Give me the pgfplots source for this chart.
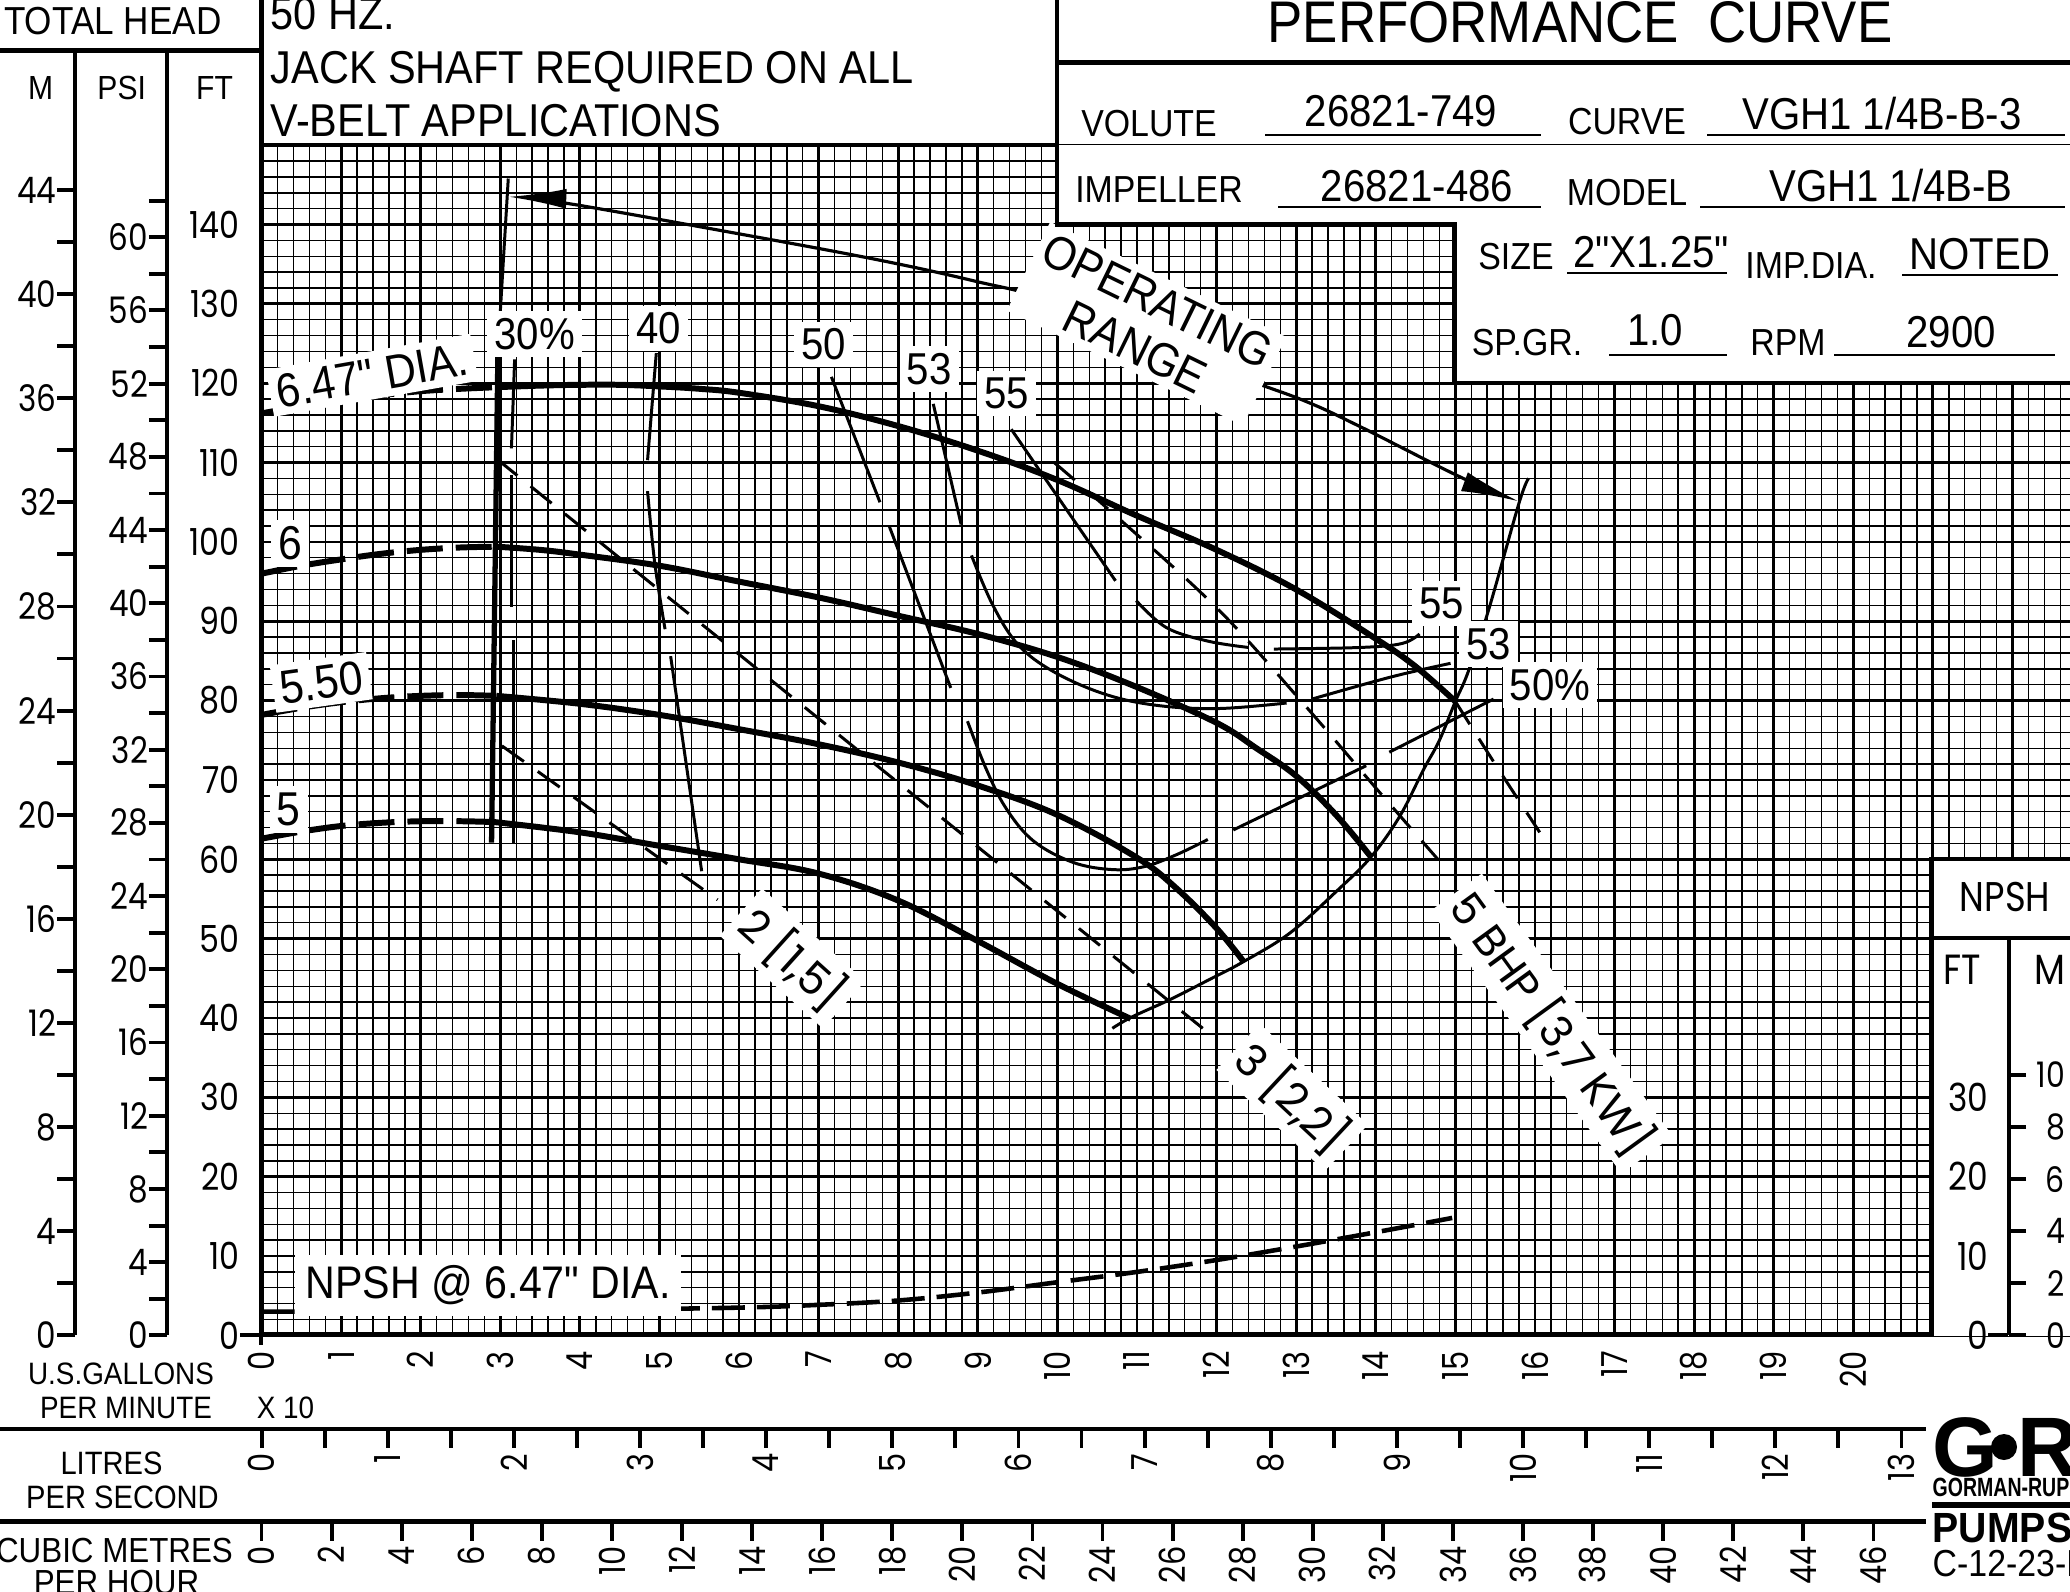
\documentclass[border=0pt]{standalone}
\usepackage{fontspec}
\usepackage{graphicx}
\usepackage{pgfplots}
\pgfplotsset{compat=1.18}
\usetikzlibrary{arrows.meta}
\newfontfamily\cad[FakeStretch=0.9]{Liberation Sans}
\newfontfamily\geo[FakeStretch=0.85]{Poppins}
\newfontfamily\geow{Poppins}
\newfontfamily\lgo{Liberation Sans}
\newcommand\fs[1]{\fontsize{#1}{#1}\selectfont}
\tikzset{
  t/.style={inner sep=0pt},
  lbl/.style={fill=white, inner sep=2pt, font=\cad\fs{12.7pt}},
  bhp/.style={fill=white, inner sep=2pt, font=\geow\fs{12.5pt}},
}
\pgfplotsset{
  every axis/.append style={/pgf/number format/assume math mode=true},
  hq/.style={black, line width=1.7pt, smooth, tension=0.6},
  hqd/.style={hq, dash pattern=on 0.36cm off 0.13cm},
  eff/.style={black, line width=0.85pt, smooth, tension=0.6},
  bhpl/.style={black, line width=0.85pt, smooth, tension=0.6, dash pattern=on 0.27cm off 0.17cm},
}
\begin{document}
\begin{tikzpicture}[x=0.01cm,y=-0.01cm]
\path[use as bounding box] (0,0) rectangle (2070,1591);
\clip (0,0) rectangle (2070,1591);

% ---------------- main chart ----------------
\begin{axis}[
  at={(2.614cm,-13.346cm)}, anchor=south west,
  x=0.7954cm, y=0.0793cm,
  xmin=0, xmax=23, ymin=0, ymax=150,
  axis line style={draw=none},
  xtick={0,1,...,23}, ytick={0,10,...,150},
  minor x tick num=4, minor y tick num=4,
  major tick length=0pt, minor tick length=0pt,
  grid=both,
  major grid style={line width=0.8pt, black},
  minor grid style={line width=0.4pt, black},
  xticklabel={\ifnum\ticknum<21 \pgfmathprintnumber[assume math mode=true]{\tick}\fi},
  yticklabel={\ifnum\ticknum<15 \pgfmathprintnumber[assume math mode=true]{\tick}\fi},
  xticklabel style={yshift=-0.15cm, rotate=90, anchor=east, inner sep=0pt, font=\geo\fs{10.2pt}},
  yticklabel style={xshift=-0.214cm, anchor=east, inner sep=0pt, font=\geo\fs{10.6pt}},
]
% white title-block / NPSH panel areas
\fill[white] (axis cs:21,-5) rectangle (axis cs:24,60);
\fill[white] (axis cs:10,140) rectangle (axis cs:24,160);
\fill[white] (axis cs:15,120) rectangle (axis cs:24,160);

% head-capacity curves
\addplot[hqd] coordinates {(0,116.2)(0.5,117.1)(1,117.9)(1.5,118.5)(2,119.0)(2.5,119.3)(2.95,119.5)};
\addplot[hq] coordinates {(2.95,119.5)(3.5,119.7)(4,119.8)(4.5,119.8)(5,119.6)(5.5,119.3)(6,118.8)(7,117.1)(8,114.6)(9,111.5)(10,107.8)(11,103.3)(12,99.0)(13,94.0)(14,87.8)(14.5,84.3)(15.0,79.9)};
\addplot[bhpl] coordinates {(15.0,79.9)(15.5,72.0)(16.06,63.4)};

\addplot[hqd] coordinates {(0,96.0)(0.5,97.0)(1,97.8)(1.5,98.5)(2,99.0)(2.5,99.3)(2.95,99.4)};
\addplot[hq] coordinates {(2.95,99.4)(3.5,99.0)(4,98.4)(5,97.0)(6,95.0)(7,93.0)(8,90.7)(9,88.4)(10,85.5)(11,81.7)(12,77.2)(12.5,74.0)(13,70.5)(13.5,65.6)(13.94,60.3)};

\addplot[hqd] coordinates {(0,78.2)(0.5,79.1)(1,79.8)(1.5,80.3)(2,80.6)(2.5,80.7)(2.95,80.6)};
\addplot[hq] coordinates {(2.95,80.6)(4,79.6)(5,78.2)(6,76.4)(7,74.5)(8,72.2)(9,69.3)(10,65.6)(11,60.2)(11.5,56.3)(12.0,51.3)(12.34,47.1)};

\addplot[hqd] coordinates {(0,62.6)(0.5,63.5)(1,64.2)(1.5,64.6)(2,64.8)(2.5,64.8)(2.92,64.7)};
\addplot[hq] coordinates {(2.92,64.7)(4,63.4)(5,61.7)(6,60.0)(7,58.2)(8,54.8)(9,49.7)(10,44.3)(10.92,39.9)};

% operating range boundaries
\addplot[black, line width=1.5pt] coordinates {(2.89,62.1)(2.97,124)};
\addplot[eff] coordinates {(2.97,124)(3.10,145.8)};
\addplot[eff] coordinates {(10.69,38.7)(10.93,40.1)(11.41,42.3)(11.9,44.8)(12.32,47.0)(12.92,50.7)(13.52,56.1)(13.94,60.3)(14.3,65.4)(14.6,71.3)(14.8,75.0)(15.0,79.9)(15.16,83.6)(15.42,91.5)(15.8,104.9)(15.92,108.0)};

% efficiency lines
\addplot[eff] coordinates {(3.18,123.0)(3.14,111.8)};
\addplot[eff] coordinates {(3.14,108.4)(3.14,91.8)};
\addplot[eff] coordinates {(3.16,87.6)(3.16,62.0)};
\addplot[eff] coordinates {(4.96,123.8)(4.85,110.3)};
\addplot[eff] coordinates {(4.85,106.4)(4.94,97.4)(5.07,89.0)};
\addplot[eff] coordinates {(5.14,85.6)(5.53,58.5)};
\addplot[eff] coordinates {(7.16,120.8)(7.77,105.0)};
\addplot[eff] coordinates {(7.89,101.9)(8.66,81.6)};
\addplot[eff] coordinates {(8.87,77.4)(9.1,71.5)(9.35,66.5)(9.7,62.3)(10.2,59.6)(10.7,58.7)(11.1,59.1)(11.5,60.6)(11.89,62.5)};
\addplot[eff] coordinates {(12.21,63.7)(13.88,71.8)};
\addplot[eff] coordinates {(14.17,73.5)(15.48,80.2)};
\addplot[eff] coordinates {(8.44,117.4)(8.79,102.2)};
\addplot[eff] coordinates {(8.92,98.3)(9.19,92.0)(9.51,87.0)(9.96,83.6)(10.6,80.8)(11.25,79.4)(12.02,79.0)(12.88,79.7)};
\addplot[eff] coordinates {(13.2,80.2)(14.2,83.0)(14.94,84.7)};
\addplot[eff] coordinates {(9.42,114.2)(10.73,95.1)};
\addplot[eff] coordinates {(10.99,92.6)(11.37,89.2)(11.89,87.5)(12.4,86.7)};
\addplot[eff] coordinates {(12.72,86.5)(13.81,86.7)(14.33,87.2)(14.55,88.4)};

% BHP lines
\addplot[bhpl] coordinates {(3.02,74.3)(5.73,54.9)};
\addplot[bhpl] coordinates {(2.95,110.5)(11.95,37.7)};
\addplot[bhpl] coordinates {(9.96,110.0)(10.8,102.7)(12.02,91.5)(13.04,80.2)(14.0,69.0)(14.78,60.0)};

% NPSH required
\addplot[black, line width=1.3pt, smooth, tension=0.6, dash pattern=on 0.33cm off 0.12cm] coordinates {(0,3.0)(2,3.05)(4,3.2)(6,3.5)(7,3.85)(8,4.4)(9,5.4)(10,6.7)(11,8.0)(12,9.5)(13,11.2)(14,13.0)(14.96,14.8)};

% operating range arrow
\addplot[black, line width=0.9pt, smooth, tension=0.6, {Latex[length=0.58cm,width=0.2cm]}-{Latex[length=0.58cm,width=0.2cm]}] coordinates {(3.10,143.5)(3.82,142.7)(5.74,139.3)(7.67,135.7)(8.95,132.9)(10.03,130.0)(12.08,121.6)(13.1,117.8)(13.81,114.5)(15.1,108.0)(15.8,105.1)};

% labels
\node[lbl, rotate=10, font=\cad\fs{13.5pt}] at (axis cs:1.39,121.0) {6.47" DIA.};
\node[lbl, font=\cad\fs{13.5pt}] at (axis cs:0.36,99.8) {6};
\node[lbl, rotate=8, font=\cad\fs{13.5pt}] at (axis cs:0.75,82.3) {5.50};
\node[lbl, font=\cad\fs{13.5pt}] at (axis cs:0.34,66.3) {5};
\node[lbl] at (axis cs:3.43,126.2) {30\%};
\node[lbl] at (axis cs:4.99,126.9) {40};
\node[lbl] at (axis cs:7.06,124.9) {50};
\node[lbl] at (axis cs:8.39,121.8) {53};
\node[lbl] at (axis cs:9.36,118.7) {55};
\node[lbl] at (axis cs:14.83,92.2) {55};
\node[lbl] at (axis cs:15.42,87.1) {53};
\node[lbl] at (axis cs:16.19,82.0) {50\%};
\node[bhp, rotate=-42] at (axis cs:6.67,47.5) {2 [1,5]};
\node[bhp, rotate=-43] at (axis cs:12.95,30.0) {3 [2,2]};
\node[bhp, rotate=-54] at (axis cs:16.21,39.3) {5 BHP [3,7 KW]};
\node[lbl, inner sep=3pt, font=\cad\fs{13pt}] at (axis cs:2.85,6.3) {NPSH @ 6.47" DIA.};
\node[fill=white, inner sep=2pt, rotate=-26, align=center, font=\cad\fontsize{13.5pt}{14.5pt}\selectfont] at (axis cs:11.12,127.5) {OPERATING\\RANGE};
\end{axis}

% ---------------- left scales ----------------
\begin{axis}[at={(0.75cm,-13.346cm)}, anchor=south west,
  x=1pt, xmin=0, xmax=1, y=0.26017cm, ymin=0, ymax=49.35,
  axis x line=none, axis y line*=left,
  axis line style={line width=1.1pt},
  ytick={0,4,...,44}, minor ytick={2,6,...,42},
  tick align=outside, major tick length=0.18cm, minor tick length=0.18cm,
  tick style={line width=1.1pt, black},
  yticklabel style={inner sep=0pt, font=\geo\fs{10.4pt}},
]
\end{axis}
\begin{axis}[at={(1.667cm,-13.346cm)}, anchor=south west,
  x=1pt, xmin=0, xmax=1, y=0.18292cm, ymin=0, ymax=70.19,
  axis x line=none, axis y line*=left,
  axis line style={line width=1.1pt},
  ytick={0,4,...,60}, minor ytick={2,6,...,62},
  tick align=outside, major tick length=0.18cm, minor tick length=0.18cm,
  tick style={line width=1.1pt, black},
  yticklabel style={inner sep=0pt, font=\geo\fs{10.4pt}},
]
\end{axis}

% ---------------- bottom scales ----------------
\begin{axis}[at={(0cm,-14.28cm)}, anchor=south west,
  x=1.26073cm, xmin=-2.0735, xmax=13.196, y=1pt, ymin=0, ymax=1,
  axis y line=none, axis x line*=bottom,
  axis line style={line width=1.3pt},
  xtick={0,...,13}, minor xtick={0.5,1.5,...,12.5},
  tick align=outside, major tick length=0.19cm, minor tick length=0.19cm,
  tick style={line width=1.1pt, black},
  xticklabel style={yshift=-0.05cm, rotate=90, anchor=east, inner sep=0pt, font=\geo\fs{10.2pt}},
]
\end{axis}
\begin{axis}[at={(0cm,-15.207cm)}, anchor=south west,
  x=0.35021cm, xmin=-7.464, xmax=47.50, y=1pt, ymin=0, ymax=1,
  axis y line=none, axis x line*=bottom,
  axis line style={line width=1.3pt},
  xtick={0,2,...,46},
  tick align=outside, major tick length=0.19cm,
  tick style={line width=1.1pt, black},
  xticklabel style={yshift=-0.05cm, rotate=90, anchor=east, inner sep=0pt, font=\geo\fs{10.2pt}},
]
\end{axis}

% ---------------- NPSH scales ----------------
\begin{axis}[at={(20.08cm,-13.346cm)}, anchor=south east,
  x=1pt, xmin=0, xmax=1, y=0.26017cm, ymin=0, ymax=15.24,
  axis x line=none, axis y line*=right,
  axis line style={line width=1.1pt},
  ytick={0,2,...,10},
  tick align=outside, major tick length=0.17cm,
  tick style={line width=1.1pt, black},
  yticklabel style={anchor=west, text width=0.38cm, align=right, inner sep=0pt, font=\geo\fs{10pt}},
]
\end{axis}
\begin{axis}[at={(19.88cm,-13.346cm)}, anchor=south west,
  x=1pt, xmin=0, xmax=1, y=0.0793cm, ymin=0, ymax=50,
  axis x line=none, axis y line*=left,
  y axis line style={draw=none},
  ytick={0,10,20,30}, major tick length=0pt,
  yticklabel style={anchor=east, inner sep=0pt, font=\geo\fs{11pt}},
]
\end{axis}

% ---------------- frame lines ----------------
\draw[line width=1.3pt] (261.4,0) -- (261.4,1334.6) -- (1931.7,1334.6) -- (1931.7,858.8) -- (2075,858.8);
\draw[line width=1.3pt] (0,50.7) -- (261.4,50.7);
\draw[line width=1.3pt] (261.4,145.1) -- (1056.8,145.1);
\draw[line width=1.3pt] (1056.8,0) -- (1056.8,224.4) -- (1454.5,224.4) -- (1454.5,383) -- (2075,383);
\draw[line width=1.3pt] (1056.8,62.7) -- (2075,62.7);
\draw[line width=1.1pt] (1931.7,938.1) -- (2075,938.1);
\draw[line width=1.1pt] (240,1334.6) -- (261.4,1334.6);
\draw[line width=1.1pt] (261.4,1334.6) -- (261.4,1345);
\draw[line width=1.1pt] (1988,1334.6) -- (2008,1334.6);

% ---------------- header texts ----------------
\node[t, anchor=base west, font=\cad\fs{11.1pt}] at (3.4,35) {TOTAL HEAD};
\node[t, font=\cad\fs{9.5pt}] at (40.6,88.3) {M};
\node[t, font=\cad\fs{9.5pt}] at (121.7,88.3) {PSI};
\node[t, font=\cad\fs{9.5pt}] at (214.6,88.3) {FT};
\node[t, anchor=base west, font=\cad\fs{13.1pt}] at (270,30) {50 HZ.};
\node[t, anchor=base west, font=\cad\fs{13.1pt}] at (270,83.3) {JACK SHAFT REQUIRED ON ALL};
\node[t, anchor=base west, font=\cad\fs{13.1pt}] at (270,136.7) {V-BELT APPLICATIONS};

\node[t, font=\cad\fs{16.7pt}] at (1580,22.5) {PERFORMANCE\ \ CURVE};
\node[t, font=\cad\fs{10.7pt}] at (1149,123.5) {VOLUTE};
\node[t, font=\cad\fs{12.7pt}] at (1401,111) {26821-749};
\node[t, font=\cad\fs{10.7pt}] at (1627,121.5) {CURVE};
\node[t, font=\cad\fs{12.7pt}] at (1882,114) {VGH1 1/4B-B-3};
\node[t, font=\cad\fs{10.7pt}] at (1159,190) {IMPELLER};
\node[t, font=\cad\fs{12.7pt}] at (1417,186) {26821-486};
\node[t, font=\cad\fs{10.7pt}] at (1627,193) {MODEL};
\node[t, font=\cad\fs{12.7pt}] at (1891,186) {VGH1 1/4B-B};
\node[t, font=\cad\fs{10.7pt}] at (1516,257) {SIZE};
\node[t, font=\cad\fs{12.7pt}] at (1651,252) {2"X1.25"};
\node[t, font=\cad\fs{10.7pt}] at (1811,266) {IMP.DIA.};
\node[t, font=\cad\fs{12.7pt}] at (1980,254) {NOTED};
\node[t, font=\cad\fs{10.7pt}] at (1527,343) {SP.GR.};
\node[t, font=\cad\fs{12.7pt}] at (1655,330) {1.0};
\node[t, font=\cad\fs{10.7pt}] at (1788,343) {RPM};
\node[t, font=\cad\fs{12.7pt}] at (1951,332) {2900};
\draw[line width=0.6pt] (1265,135) -- (1541,135) (1707,135) -- (2065,135)
  (1278,207) -- (1541,207) (1700,207) -- (2065,207)
  (1567,273) -- (1727,273) (1902,275) -- (2058,275)
  (1609,355) -- (1727,355) (1834,355) -- (2055,355);

% ---------------- NPSH panel texts ----------------
\node[t, font=\geo\fs{11.8pt}] at (2005,897) {NPSH};
\node[t, font=\geo\fs{12pt}] at (1962,970) {FT};
\node[t, font=\geo\fs{12pt}] at (2050,970) {M};

% ---------------- bottom-left texts ----------------
\node[t, font=\cad\fs{8.8pt}] at (121,1374) {U.S.GALLONS};
\node[t, font=\cad\fs{8.8pt}] at (126,1407.5) {PER MINUTE};
\node[t, font=\cad\fs{8.8pt}] at (285.5,1407.5) {X 10};
\node[t, font=\cad\fs{9.2pt}] at (111.5,1463.5) {LITRES};
\node[t, font=\cad\fs{9.2pt}] at (122.5,1497.5) {PER SECOND};
\node[t, font=\cad\fs{9.9pt}] at (114.5,1550.5) {CUBIC METRES};
\node[t, font=\cad\fs{9.9pt}] at (116.5,1582) {PER HOUR};

% ---------------- logo ----------------
\node[t, anchor=west, font=\lgo\bfseries\fs{24pt}] at (1932,1447) {G};
\fill (2004,1447) circle (13);
\node[t, anchor=west, font=\lgo\bfseries\fs{24pt}] at (2017,1447) {R};
\node[t, anchor=west, font=\lgo\bfseries\fs{7.5pt}] at (1932,1487.5) {\scalebox{0.74}[1]{GORMAN-RUPP}};
\fill (1932,1502) rectangle (2075,1508);
\node[t, anchor=west, font=\lgo\bfseries\fs{12pt}] at (1932,1528) {\scalebox{0.93}[1]{PUMPS}};
\node[t, anchor=west, font=\cad\fs{10.7pt}] at (1932,1563.5) {C-12-23-R};
\end{tikzpicture}
\end{document}
